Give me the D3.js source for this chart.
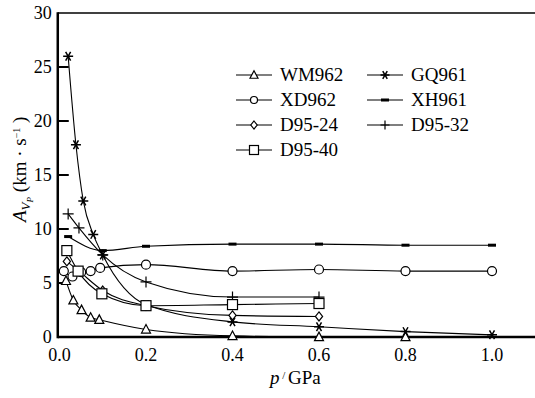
<!DOCTYPE html>
<html><head><meta charset="utf-8"><script src="https://cdn.jsdelivr.net/npm/d3@7"></script></head>
<body style="margin:0">
<svg id="chart" width="535" height="398"></svg>
<script>
// Data: [p (GPa), A_Vp (km/s)]
const WM962 = [[0.015, 5.2], [0.032, 3.4], [0.051, 2.5], [0.072, 1.8], [0.092, 1.6], [0.2, 0.7], [0.4, 0.1], [0.6, 0.0], [0.8, 0.0]];
const GQ961 = [[0.02, 26.0], [0.038, 17.8], [0.055, 12.6], [0.078, 9.5], [0.1, 7.6], [0.2, 3.0], [0.4, 1.4], [0.6, 0.95], [0.8, 0.5], [1.0, 0.2]];
const XD962 = [[0.01, 6.1], [0.03, 5.6], [0.05, 6.0], [0.072, 6.1], [0.094, 6.4], [0.2, 6.7], [0.4, 6.1], [0.6, 6.25], [0.8, 6.1], [1.0, 6.1]];
const XH961 = [[0.02, 9.3], [0.1, 8.0], [0.2, 8.4], [0.4, 8.6], [0.6, 8.6], [0.8, 8.5], [1.0, 8.5]];
const D95_24 = [[0.017, 7.0], [0.045, 6.1], [0.1, 4.3], [0.2, 2.9], [0.4, 2.0], [0.6, 1.9]];
const D95_32 = [[0.02, 11.4], [0.045, 10.1], [0.1, 7.6], [0.2, 5.1], [0.4, 3.7], [0.6, 3.7]];
const D95_40 = [[0.017, 8.0], [0.043, 6.1], [0.098, 4.0], [0.2, 2.9], [0.4, 3.0], [0.6, 3.1]];

const xTicks = [0, 0.2, 0.4, 0.6, 0.8, 1.0];
const yTicks = [0, 5, 10, 15, 20, 25, 30];

const series = [
    { name: "WM962", data: WM962, mark: "triangle", col: 0, row: 0 },
    { name: "GQ961", data: GQ961, mark: "star", col: 1, row: 0 },
    { name: "XD962", data: XD962, mark: "circle", col: 0, row: 1 },
    { name: "XH961", data: XH961, mark: "bar", col: 1, row: 1 },
    { name: "D95-24", data: D95_24, mark: "diamond", col: 0, row: 2 },
    { name: "D95-32", data: D95_32, mark: "plus", col: 1, row: 2 },
    { name: "D95-40", data: D95_40, mark: "square", col: 0, row: 3 },
];

const svg = d3.select("#chart");

// scales (plot frame runs off the right edge of the picture)
const x = d3.scaleLinear().domain([0, 1]).range([59.5, 492]);
const y = d3.scaleLinear().domain([0, 30]).range([337, 13]);
const frameLeft = x(-0.004);
const frameRight = 545;

// frame
svg.append("line").attr("x1", frameLeft).attr("x2", frameRight).attr("y1", y(30)).attr("y2", y(30))
    .attr("stroke", "#000").attr("stroke-width", 1.5);
svg.append("line").attr("x1", frameLeft).attr("x2", frameLeft).attr("y1", y(30) - 0.75).attr("y2", y(0) + 1.2)
    .attr("stroke", "#000").attr("stroke-width", 2.5);
svg.append("line").attr("x1", frameLeft).attr("x2", frameRight).attr("y1", y(0)).attr("y2", y(0))
    .attr("stroke", "#000").attr("stroke-width", 2.5);

// tick labels drawn as plain text from the scales (axis text gets its own font)
yTicks.forEach(v => {
    if (v > 0 && v < 30) {
        svg.append("line").attr("x1", frameLeft).attr("x2", frameLeft + 11).attr("y1", y(v)).attr("y2", y(v))
            .attr("stroke", "#000").attr("stroke-width", 2);
    }
    svg.append("text").attr("x", frameLeft - 6).attr("y", y(v) + 6).attr("text-anchor", "end")
        .style("font-family", "Liberation Serif").style("font-size", "18px").text(d3.format("d")(v));
});
xTicks.forEach(v => {
    svg.append("text").attr("x", x(v)).attr("y", y(0) + 24).attr("text-anchor", "middle")
        .style("font-family", "Liberation Serif").style("font-size", "18px").text(d3.format(".1f")(v));
});

// axis titles
const xt = svg.append("text").attr("x", 270).attr("y", 384)
    .style("font-family", "Liberation Serif").style("font-size", "19px");
xt.append("tspan").text("p").style("font-style", "italic");
xt.append("tspan").text(" / ").attr("dy", -5).style("font-size", "11px");
xt.append("tspan").text("GPa").attr("dy", 5);

const yt = svg.append("text").attr("transform", "translate(26,222) rotate(-90)")
    .style("font-family", "Liberation Serif").style("font-size", "19px");
yt.append("tspan").text("A").style("font-style", "italic");
yt.append("tspan").text("V").attr("dy", 4).style("font-size", "13px").style("font-style", "italic");
yt.append("tspan").text("P").attr("dy", 3).style("font-size", "9px").style("font-style", "italic");
yt.append("tspan").text("  (km · s").attr("dy", -7);
yt.append("tspan").text("−1").attr("dy", -6).style("font-size", "10px");
yt.append("tspan").text(" )").attr("dy", 6);

// marker drawing
function drawMark(g, kind, cx, cy, s) {
    const st = { stroke: "#000", "stroke-width": 1.2, fill: "#fff" };
    let el;
    if (kind === "triangle") {
        const h = s * 0.9;
        el = g.append("path").attr("d", `M${cx},${cy - h * 0.6}L${cx + s / 2},${cy + h * 0.45}L${cx - s / 2},${cy + h * 0.45}Z`);
    } else if (kind === "circle") {
        el = g.append("circle").attr("cx", cx).attr("cy", cy).attr("r", s / 2);
    } else if (kind === "square") {
        el = g.append("rect").attr("x", cx - s / 2).attr("y", cy - s / 2).attr("width", s).attr("height", s);
    } else if (kind === "diamond") {
        const r = s / 2;
        el = g.append("path").attr("d", `M${cx},${cy - r}L${cx + r * 0.8},${cy}L${cx},${cy + r}L${cx - r * 0.8},${cy}Z`);
    } else if (kind === "plus") {
        const r = s / 2;
        el = g.append("path").attr("d", `M${cx - r},${cy}H${cx + r}M${cx},${cy - r}V${cy + r}`).attr("fill", "none");
    } else if (kind === "star") {
        const r = s / 2;
        const a = r * 0.87, b = r * 0.5;
        el = g.append("path").attr("d", `M${cx - r},${cy}H${cx + r}M${cx - b},${cy - a}L${cx + b},${cy + a}M${cx + b},${cy - a}L${cx - b},${cy + a}`)
            .attr("fill", "none");
        st["stroke-width"] = 1.5;
    } else if (kind === "bar") {
        el = g.append("rect").attr("x", cx - s / 2).attr("y", cy - 1.5).attr("width", s).attr("height", 3).attr("fill", "#000");
        st.fill = "#000";
        st["stroke-width"] = 0;
    }
    Object.entries(st).forEach(([k, v]) => { if (el.attr(k) === null) el.attr(k, v); });
}

const line = d3.line().x(d => x(d[0])).y(d => y(d[1])).curve(d3.curveMonotoneX);

const plot = svg.append("g");
series.forEach(s => {
    plot.append("path").datum(s.data).attr("d", line)
        .attr("fill", "none").attr("stroke", "#000").attr("stroke-width", 1.1);
});
series.forEach(s => {
    const size = { triangle: 9, circle: 9, square: 10, diamond: 9, plus: 11, star: 10, bar: 8 }[s.mark];
    s.data.forEach(d => drawMark(plot, s.mark, x(d[0]), y(d[1]), size));
});

// legend
const legX = [236, 367];
const legY = 75, legStep = 25;
series.forEach(s => {
    const lx = legX[s.col], ly = legY + s.row * legStep;
    svg.append("line").attr("x1", lx).attr("x2", lx + 36).attr("y1", ly).attr("y2", ly)
        .attr("stroke", "#000").attr("stroke-width", 1.1);
    const size = { triangle: 8, circle: 7, square: 9, diamond: 8, plus: 9, star: 9, bar: 8 }[s.mark];
    drawMark(svg, s.mark, lx + 18, ly, size);
    svg.append("text").attr("x", lx + 44).attr("y", ly + 6)
        .style("font-family", "Liberation Serif").style("font-size", "19px").text(s.name);
});
</script>
</body>
</html>
